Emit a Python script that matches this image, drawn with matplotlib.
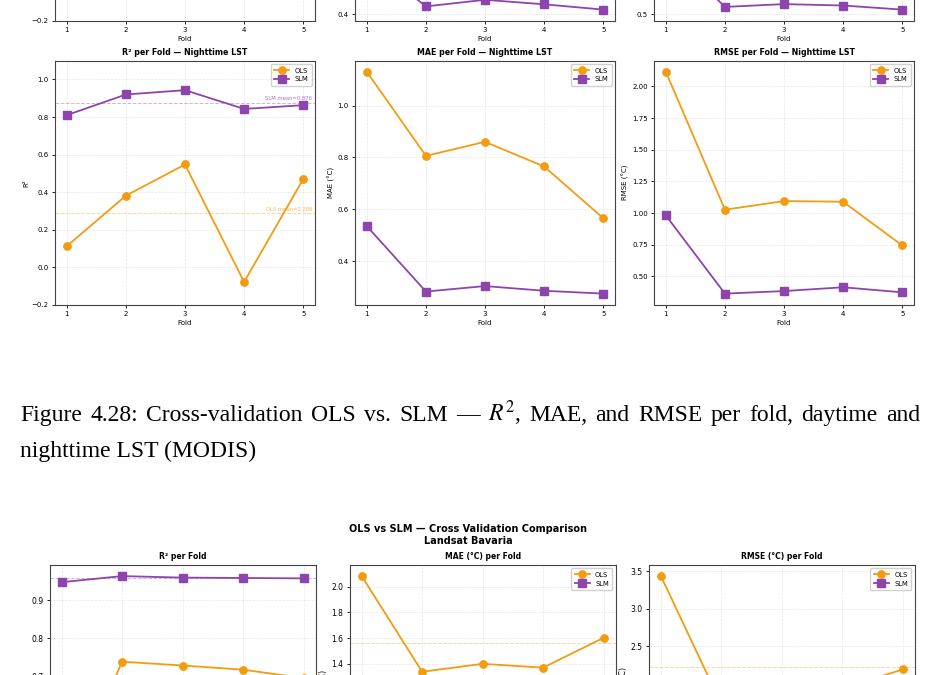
import matplotlib
matplotlib.use('Agg')
from matplotlib import pyplot as plt
from matplotlib.ticker import MultipleLocator

plt.rcParams['font.family'] = 'DejaVu Sans'
plt.rcParams['mathtext.fontset'] = 'stix'

W, H = 943, 675
folds = [1, 2, 3, 4, 5]

# ---- MODIS daytime (top row, only the lower strip shows) ----
day_r2_ols = [0.35, 0.55, 0.60, 0.30, 0.50]
day_r2_slm = [0.85, 0.93, 0.94, 0.90, 0.92]
day_mae_ols = [1.60, 1.10, 1.15, 1.05, 0.85]
day_mae_slm = [0.69, 0.441, 0.476, 0.452, 0.424]
day_rmse_ols = [2.60, 1.50, 1.60, 1.45, 1.20]
day_rmse_slm = [1.11, 0.568, 0.594, 0.581, 0.543]

# ---- MODIS nighttime (middle row) ----
night_r2_ols = [0.112, 0.381, 0.547, -0.079, 0.469]
night_r2_slm = [0.810, 0.920, 0.943, 0.843, 0.863]
night_mae_ols = [1.13, 0.806, 0.860, 0.765, 0.566]
night_mae_slm = [0.535, 0.283, 0.304, 0.286, 0.275]
night_rmse_ols = [2.115, 1.027, 1.095, 1.090, 0.745]
night_rmse_slm = [0.982, 0.365, 0.385, 0.415, 0.375]

# ---- Landsat Bavaria (bottom, cut off at page end) ----
ls_r2_ols = [0.38, 0.738, 0.728, 0.717, 0.695]
ls_r2_slm = [0.947, 0.963, 0.959, 0.958, 0.957]
ls_mae_ols = [2.083, 1.338, 1.400, 1.370, 1.602]
ls_mae_slm = [0.42, 0.356, 0.38, 0.37, 0.40]
ls_rmse_ols = [3.438, 1.72, 1.85, 1.93, 2.186]
ls_rmse_slm = [0.55, 0.463, 0.50, 0.48, 0.52]

ORANGE = '#f39c12'
PURPLE = '#8e44ad'

caption1 = 'Figure 4.28: Cross-validation OLS vs. SLM — $R^2$, MAE, and RMSE per fold, daytime and'
caption2 = 'nighttime LST (MODIS)'

fig = plt.figure(figsize=(9.43, 6.75), dpi=100)


def box(left, top, w, h):
    # pixel box (from top-left) -> figure fraction
    return fig.add_axes([left / W, 1 - (top + h) / H, w / W, h / H])


def panel(ax, ols, slm, title, ylabel, fs=5.0, tfs=5.7, ylim=None,
          means=False, mean_text=False, legend=True):
    ax.plot(folds, ols, marker='o', color=ORANGE, lw=1.3, ms=5.3, label='OLS')
    ax.plot(folds, slm, marker='s', color=PURPLE, lw=1.3, ms=5.3, label='SLM')
    if means:
        for vals, c, name in [(slm, PURPLE, 'SLM'), (ols, ORANGE, 'OLS')]:
            m = sum(vals) / len(vals)
            ax.axhline(m, color=c, ls='--', lw=0.7, alpha=0.4)
            if mean_text:
                ax.text(5.15, m + 0.008, '%s mean=%.3f' % (name, m), color=c,
                        alpha=0.75, fontsize=3.8, ha='right', va='bottom')
    if ylim:
        ax.set_ylim(ylim)
    ax.set_xticks(folds)
    ax.set_title(title, fontsize=tfs, fontweight='bold', pad=4)
    ax.set_xlabel('Fold', fontsize=fs, labelpad=2)
    ax.set_ylabel(ylabel, fontsize=fs, labelpad=2)
    ax.tick_params(labelsize=fs, length=2.5, width=0.6, pad=2)
    ax.grid(True, alpha=0.3, ls='--', lw=0.5)
    for s in ax.spines.values():
        s.set_linewidth(0.8)
        s.set_color('#444444')
    if legend:
        ax.legend(loc='upper right', fontsize=4.9, handlelength=2.2,
                  borderpad=0.5, labelspacing=0.4, framealpha=0.9)


# top row (daytime), mostly above the page edge
ax = box(55, 20.7 - 244, 260, 244)
panel(ax, day_r2_ols, day_r2_slm, 'R² per Fold — Daytime LST', 'R²',
      ylim=(-0.2, 1.1), means=True, mean_text=True)
ax = box(355, 20.7 - 244, 260, 244)
panel(ax, day_mae_ols, day_mae_slm, 'MAE per Fold — Daytime LST', 'MAE (°C)')
ax = box(654, 20.7 - 244, 260, 244)
panel(ax, day_rmse_ols, day_rmse_slm, 'RMSE per Fold — Daytime LST', 'RMSE (°C)')

# middle row (nighttime)
ax = box(55, 60.7, 260, 244)
panel(ax, night_r2_ols, night_r2_slm, 'R² per Fold — Nighttime LST', 'R²',
      ylim=(-0.2, 1.1), means=True, mean_text=True)
ax = box(355, 60.7, 260, 244)
panel(ax, night_mae_ols, night_mae_slm, 'MAE per Fold — Nighttime LST', 'MAE (°C)')
ax = box(654, 60.7, 260, 244)
panel(ax, night_rmse_ols, night_rmse_slm, 'RMSE per Fold — Nighttime LST', 'RMSE (°C)')

# caption, first line justified between x=20 and x=920
cap_font = dict(family='Liberation Serif', fontsize=17, va='baseline', ha='left')
renderer = fig.canvas.get_renderer()
words = caption1.split(' ')
widths = []
for w in words:
    t = fig.text(0, 0, w, **cap_font)
    widths.append(t.get_window_extent(renderer).width)
    t.remove()
gap = (900 - sum(widths)) / (len(words) - 1)
x = 20.0
for w, wd in zip(words, widths):
    fig.text(x / W, 1 - 421 / H, w, **cap_font)
    x += wd + gap
fig.text(20 / W, 1 - 457 / H, caption2, **cap_font)

# bottom figure (Landsat), cut off at the bottom
fig.text(468 / W, 1 - 534.5 / H, 'OLS vs SLM — Cross Validation Comparison\nLandsat Bavaria',
         fontsize=7.0, fontweight='bold', ha='center', va='center', linespacing=1.25)
ax = box(49.6, 565, 266, 244)
panel(ax, ls_r2_ols, ls_r2_slm, 'R² per Fold', 'R²', fs=5.5, tfs=5.5,
      means=True, legend=False)
ax.legend(loc='lower right', fontsize=4.9)
ax = box(349.6, 565, 266, 244)
panel(ax, ls_mae_ols, ls_mae_slm, 'MAE (°C) per Fold', 'MAE (°C)', fs=5.5, tfs=5.5,
      means=True)
ax.yaxis.set_major_locator(MultipleLocator(0.2))
ax = box(648.8, 565, 266, 244)
panel(ax, ls_rmse_ols, ls_rmse_slm, 'RMSE (°C) per Fold', 'RMSE (°C)', fs=5.5, tfs=5.5,
      means=True)

plt.savefig('out.png', dpi=100)
